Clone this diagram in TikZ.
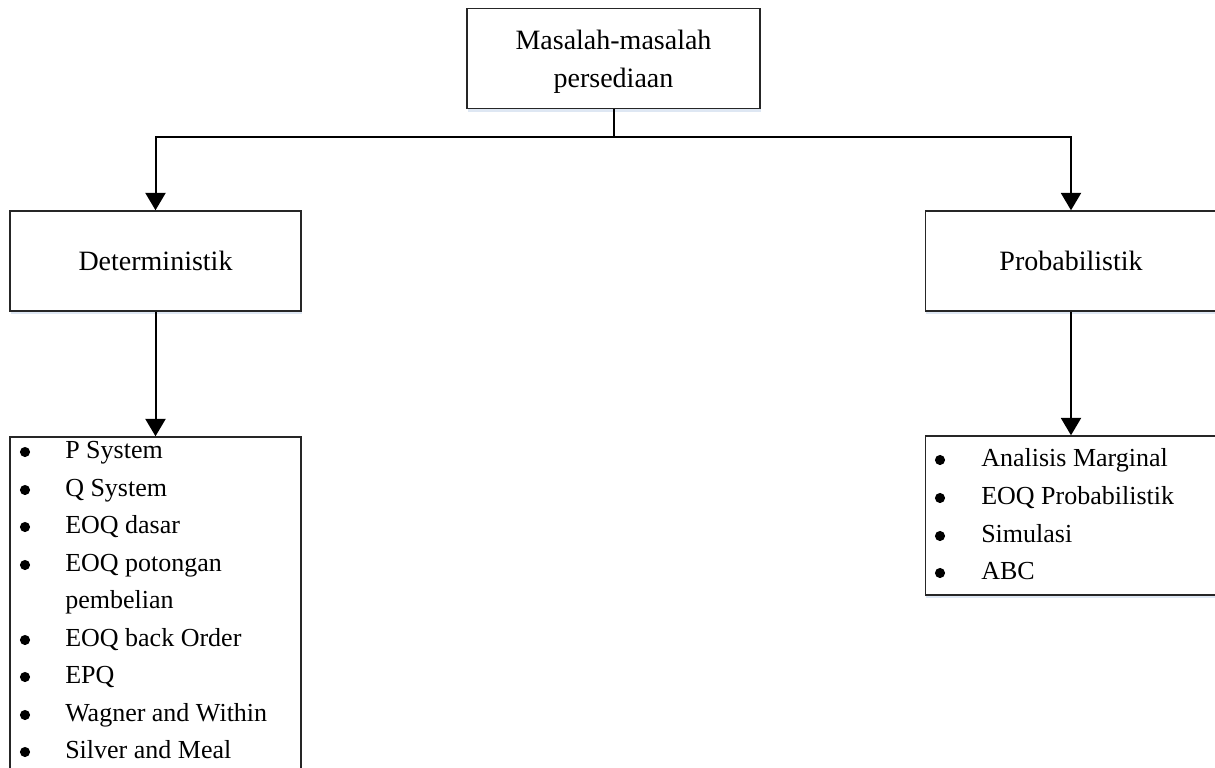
\documentclass[tikz,border=0pt]{standalone}
\usepackage{fontspec}
\setmainfont{Liberation Serif}
\usetikzlibrary{arrows.meta,shadows}
\definecolor{shade}{RGB}{222,231,243}
\tikzset{
  box/.style={draw=black!85, line width=1.1pt, fill=white, minimum width=218.5pt,
    minimum height=75pt, inner sep=0pt, align=center,
    drop shadow={shadow xshift=0.6pt, shadow yshift=-2.6pt, fill=shade, opacity=1},
    font=\fontsize{21}{28.5}\selectfont},
  listbox/.style={box, minimum width=218.5pt},
  conn/.style={line width=1.5pt, black},
  arr/.style={conn, -{Triangle[length=13pt, width=15pt]}},
  item/.style={anchor=base west, inner sep=0pt, font=\fontsize{19.5}{22}\selectfont},
  dot/.style={circle, fill=black, inner sep=0pt, minimum size=7.6pt},
}
\begin{document}
\begin{tikzpicture}[x=0.75pt, y=-0.75pt]
  \useasboundingbox (0,0) rectangle (1215,768);
  \clip (0,0) rectangle (1215,768);

  % main boxes
  \node[box, minimum width=219.75pt] (top) at (613.5,58.5) {};
  \node[font=\fontsize{21}{28.5}\selectfont, align=center, inner sep=0pt] (toptext) at (613.5,61.5) {Masalah-masalah\\persediaan};
  \node[box] (det) at (155.5,261) {Deterministik};
  \node[box] (prob) at (1071,261) {Probabilistik};

  % list boxes
  \node[listbox, minimum height=274.5pt] (ldet) at (155.5,620) {};
  \node[listbox, minimum height=119.25pt] (lprob) at (1071,515.5) {};

  % connectors
  \coordinate (split) at (613.5,137);
  \draw[conn] (top.south) -- (split);
  \draw[arr] (split) -| (det.north);
  \draw[arr] (split) -| (prob.north);
  \draw[arr] (det.south) -- (ldet.north);
  \draw[arr] (prob.south) -- (lprob.north);

  % deterministic models
  \node[dot] (d1b) at (25,452) {};
  \node[item] (d1) at (65,458) {P System};
  \node[dot] (d2b) at (25,490) {};
  \node[item] (d2) at (65,496) {Q System};
  \node[dot] (d3b) at (25,527) {};
  \node[item] (d3) at (65,533) {EOQ dasar};
  \node[dot] (d4b) at (25,565) {};
  \node[item] (d4) at (65,571) {EOQ potongan};
  \node[item] (d4c) at (65,608) {pembelian};
  \node[dot] (d5b) at (25,640) {};
  \node[item] (d5) at (65,646) {EOQ back Order};
  \node[dot] (d6b) at (25,677) {};
  \node[item] (d6) at (65,683) {EPQ};
  \node[dot] (d7b) at (25,715) {};
  \node[item] (d7) at (65,721) {Wagner and Within};
  \node[dot] (d8b) at (25,752) {};
  \node[item] (d8) at (65,758) {Silver and Meal};

  % probabilistic models
  \node[dot] (p1b) at (940,460) {};
  \node[item] (p1) at (981,466) {Analisis Marginal};
  \node[dot] (p2b) at (940,498) {};
  \node[item] (p2) at (981,504) {EOQ Probabilistik};
  \node[dot] (p3b) at (940,536) {};
  \node[item] (p3) at (981,542) {Simulasi};
  \node[dot] (p4b) at (940,573) {};
  \node[item] (p4) at (981,579) {ABC};
\end{tikzpicture}
\end{document}
